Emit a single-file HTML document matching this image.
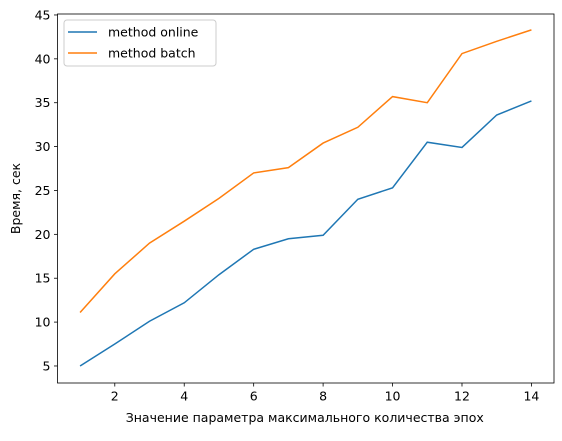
<!DOCTYPE html>
<html><head><meta charset="utf-8"><style>
body{margin:0;background:#fff;font-family:"Liberation Sans","DejaVu Sans",sans-serif}
svg text{font-family:"DejaVu Sans","Liberation Sans",sans-serif;font-size:12.5px;fill:#000}
</style></head><body>
<svg id="chart" width="562" height="436" xmlns="http://www.w3.org/2000/svg"></svg>
<script>
const epochs=[1,2,3,4,5,6,7,8,9,10,11,12,13,14];
const onlineTimes=[5.0,7.5,10.1,12.2,15.4,18.3,19.5,19.9,24.0,25.3,30.5,29.9,33.6,35.2];
const batchTimes=[11.1,15.5,19.0,21.5,24.1,27.0,27.6,30.4,32.2,35.7,35.0,40.6,42.0,43.3];
const xTicks=[2,4,6,8,10,12,14];
const yTicks=[5,10,15,20,25,30,35,40,45];
const L=57.5,R=554,T=14,B=383;
const xMin=0.35,xMax=14.65,yMin=3.06,yMax=45.11;
const sx=v=>L+(v-xMin)/(xMax-xMin)*(R-L);
const sy=v=>B-(v-yMin)/(yMax-yMin)*(B-T);
const svg=document.getElementById('chart');
const NS='http://www.w3.org/2000/svg';
function mk(tag,attrs,parent){const e=document.createElementNS(NS,tag);for(const k in attrs)e.setAttribute(k,attrs[k]);(parent||svg).appendChild(e);return e;}
function line(xs,ys,color,name){
  const p=mk('polyline',{points:xs.map((x,i)=>sx(x)+','+sy(ys[i])).join(' '),fill:'none',stroke:color,'stroke-width':1.5});
  
  
}
line(epochs,onlineTimes,'#1f77b4','series-method-online');
line(epochs,batchTimes,'#ff7f0e','series-method-batch');
const frame=mk('rect',{x:L,y:T,width:R-L,height:B-T,fill:'none',stroke:'#000','stroke-width':0.8});


xTicks.forEach(t=>{
  const x=sx(t);
  mk('line',{x1:x,x2:x,y1:B,y2:B+3.5,stroke:'#000','stroke-width':0.8});
  const tx=mk('text',{x:x,y:B+17.5,'text-anchor':'middle'});tx.textContent=t;
  
  
});
yTicks.forEach(t=>{
  const y=sy(t);
  mk('line',{x1:L-3.5,x2:L,y1:y,y2:y,stroke:'#000','stroke-width':0.8});
  const tx=mk('text',{x:L-7,y:y+4.5,'text-anchor':'end'});tx.textContent=t;
  
  
});
const xt=mk('text',{x:(L+R)/2-1,y:422,'text-anchor':'middle'});xt.textContent='Значение параметра максимального количества эпох';


const yt=mk('text',{x:0,y:0,'text-anchor':'middle',transform:'translate(20,'+((T+B)/2)+') rotate(-90)'});yt.textContent='Время, сек';


const lg=mk('g',{});


mk('rect',{x:64,y:20,width:152,height:46,rx:3,fill:'#fff','fill-opacity':0.8,stroke:'#ccc'},lg);
[['method online','#1f77b4',32],['method batch','#ff7f0e',53]].forEach(([n,c,y])=>{
  mk('line',{x1:68,x2:97,y1:y,y2:y,stroke:c,'stroke-width':1.5},lg);
  const t=mk('text',{x:108,y:y+4.5},lg);t.textContent=n;
  
  
});
</script>
</body></html>
